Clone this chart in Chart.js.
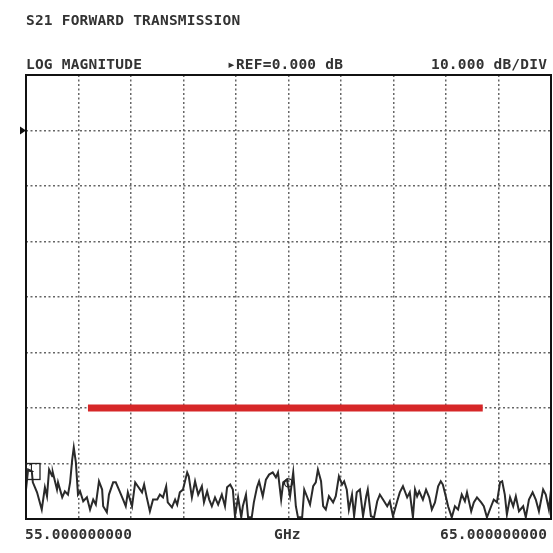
<!DOCTYPE html>
<html>
<head>
<meta charset="utf-8">
<script src="https://cdn.jsdelivr.net/npm/chart.js@4"></script>
<style>
  html, body { margin:0; padding:0; background:#fff; }
  #wrap { position:relative; width:553px; height:553px; overflow:hidden; }
  canvas { position:absolute; left:0; top:0; }
  .t { position:absolute; font-family:"DejaVu Sans Mono", monospace; font-size:14.5px; font-weight:bold; color:#333; white-space:pre; line-height:1; letter-spacing:0.2px; }
</style>
</head>
<body>
<div id="wrap">
  <canvas id="c" width="553" height="553"></canvas>
  <div class="t" style="left:26px; top:13px;">S21 FORWARD TRANSMISSION</div>
  <div class="t" style="left:26px; top:57px;">LOG MAGNITUDE</div>
  <div class="t" style="left:227px; top:57px;">▸REF=0.000 dB</div>
  <div class="t" style="left:431px; top:57px;">10.000 dB/DIV</div>
  <div class="t" style="left:25px; top:527px;">55.000000000</div>
  <div class="t" style="left:274px; top:527px;">GHz</div>
  <div class="t" style="left:440px; top:527px;">65.000000000</div>
</div>
<script>
// Frequency axis (GHz) and trace values (dB)
const freqGHz = [55.00,55.04,55.11,55.13,55.21,55.30,55.36,55.40,55.44,55.50,55.51,55.59,55.61,55.69,55.74,55.80,55.84,55.88,55.91,55.95,55.99,56.03,56.09,56.16,56.22,56.28,56.33,56.39,56.45,56.47,56.54,56.58,56.66,56.71,56.77,56.85,56.90,56.94,57.02,57.08,57.13,57.21,57.25,57.30,57.36,57.42,57.50,57.55,57.61,57.67,57.70,57.78,57.84,57.88,57.93,57.99,58.07,58.10,58.16,58.22,58.28,58.35,58.39,58.45,58.49,58.54,58.60,58.66,58.73,58.79,58.83,58.89,58.94,58.98,59.04,59.10,59.13,59.19,59.23,59.30,59.34,59.40,59.44,59.51,59.57,59.63,59.70,59.76,59.80,59.86,59.90,59.97,60.03,60.09,60.14,60.18,60.26,60.30,60.35,60.41,60.47,60.52,60.56,60.62,60.66,60.71,60.77,60.85,60.90,60.96,61.02,61.06,61.11,61.15,61.21,61.25,61.30,61.36,61.42,61.48,61.51,61.57,61.63,61.69,61.74,61.80,61.88,61.93,61.99,62.07,62.12,62.18,62.26,62.31,62.37,62.41,62.45,62.49,62.56,62.62,62.68,62.73,62.79,62.85,62.90,62.94,63.00,63.04,63.11,63.17,63.23,63.30,63.36,63.40,63.48,63.53,63.59,63.67,63.72,63.78,63.86,63.91,63.97,64.03,64.07,64.12,64.16,64.22,64.28,64.33,64.39,64.47,64.52,64.58,64.65,64.71,64.77,64.85,64.90,64.96,65.00];
const s21dB = [-64.7,-61.1,-61.4,-63.4,-65.2,-68.3,-64.3,-65.9,-61.1,-62.3,-61.6,-64.7,-63.4,-66.1,-65.0,-65.6,-63.4,-59.3,-57.1,-59.8,-65.6,-65.0,-66.8,-66.1,-68.3,-66.5,-67.4,-63.2,-64.7,-67.7,-68.8,-65.6,-63.4,-63.4,-64.7,-66.5,-67.7,-65.2,-67.7,-63.4,-64.1,-65.2,-63.8,-66.1,-68.6,-66.5,-66.5,-65.6,-66.1,-64.1,-67.0,-67.9,-66.5,-67.4,-65.2,-64.7,-61.6,-62.3,-66.1,-63.2,-65.6,-64.1,-67.0,-65.0,-66.5,-67.7,-66.1,-67.4,-65.6,-67.7,-64.3,-63.8,-64.7,-69.5,-66.1,-69.7,-67.7,-65.6,-69.7,-69.7,-67.0,-64.3,-63.2,-65.9,-62.9,-62.0,-61.6,-62.5,-61.6,-66.5,-63.4,-62.9,-65.9,-61.6,-67.7,-69.7,-69.7,-64.7,-65.9,-67.4,-64.1,-63.4,-61.1,-63.2,-67.7,-68.3,-65.9,-67.0,-65.9,-62.3,-63.8,-63.2,-64.7,-68.3,-65.6,-69.5,-65.2,-64.7,-69.5,-65.9,-64.7,-69.5,-69.7,-66.8,-65.6,-66.5,-67.7,-66.8,-69.5,-66.8,-65.2,-64.1,-66.1,-65.2,-69.7,-64.7,-65.9,-65.0,-66.5,-64.7,-66.1,-68.3,-67.0,-64.1,-63.2,-63.8,-66.1,-67.7,-69.7,-67.7,-68.3,-65.6,-66.8,-65.2,-68.6,-67.0,-66.1,-67.0,-67.7,-69.7,-67.7,-66.5,-67.0,-63.4,-63.2,-65.6,-69.2,-66.1,-67.7,-65.9,-68.6,-67.7,-69.7,-66.5,-65.2,-66.5,-68.6,-64.7,-65.6,-68.3,-64.7];
// Red limit line: start/end frequency and level
const limitGHz = [56.18, 63.70];
const limitDB = [-50, -50];
// Axis ranges
const xRange = [55, 65];
const yRange = [-70, 10];
const refLevel = 0;

const frame = {
  id: 'frame',
  afterDraw(chart) {
    const {ctx, chartArea: a, scales} = chart;
    ctx.save();
    ctx.strokeStyle = '#111';
    ctx.lineWidth = 2;
    ctx.strokeRect(a.left, a.top, a.right - a.left, a.bottom - a.top);
    // reference marker triangle
    const yr = scales.y.getPixelForValue(refLevel);
    ctx.fillStyle = '#111';
    ctx.beginPath();
    ctx.moveTo(a.left - 6, yr - 4);
    ctx.lineTo(a.left, yr);
    ctx.lineTo(a.left - 6, yr + 4);
    ctx.closePath();
    ctx.fill();
    // marker 1 box
    const x0 = scales.x.getPixelForValue(freqGHz[0]);
    const ym = scales.y.getPixelForValue(-60);
    ctx.lineWidth = 1.3;
    ctx.strokeStyle = '#222';
    ctx.strokeRect(x0, ym, 14, 16);
    ctx.fillStyle = '#222';
    ctx.font = '11px "DejaVu Sans Mono"';
    ctx.textAlign = 'center';
    ctx.textBaseline = 'middle';
    ctx.fillText('1', x0 + 5, ym + 6);
    // marker 2 circle at center
    const xc = scales.x.getPixelForValue(60.0);
    const yc = scales.y.getPixelForValue(-63.5);
    ctx.beginPath();
    ctx.arc(xc, yc, 4, 0, Math.PI * 2);
    ctx.stroke();
    ctx.restore();
  }
};

new Chart(document.getElementById('c'), {
  type: 'scatter',
  data: {
    datasets: [
      {
        data: freqGHz.map((f, i) => ({x: f, y: s21dB[i]})),
        showLine: true,
        borderColor: '#2a2a2a',
        borderWidth: 2,
        pointRadius: 0,
        tension: 0
      },
      {
        data: limitGHz.map((f, i) => ({x: f, y: limitDB[i]})),
        showLine: true,
        borderColor: '#d62728',
        borderWidth: 7,
        pointRadius: 0,
        borderCapStyle: 'butt'
      }
    ]
  },
  plugins: [frame],
  options: {
    responsive: false,
    animation: false,
    layout: { padding: { left: 26, top: 75, right: 2, bottom: 34 } },
    plugins: { legend: { display: false }, tooltip: { enabled: false } },
    scales: {
      x: {
        type: 'linear', min: xRange[0], max: xRange[1],
        ticks: { display: false, stepSize: 1 },
        grid: { color: '#666', lineWidth: 1.5, drawTicks: false },
        border: { display: false, dash: [2, 2.5] }
      },
      y: {
        type: 'linear', min: yRange[0], max: yRange[1],
        ticks: { display: false, stepSize: 10 },
        grid: { color: '#666', lineWidth: 1.5, drawTicks: false },
        border: { display: false, dash: [2, 2.5] }
      }
    }
  }
});
</script>
</body>
</html>
